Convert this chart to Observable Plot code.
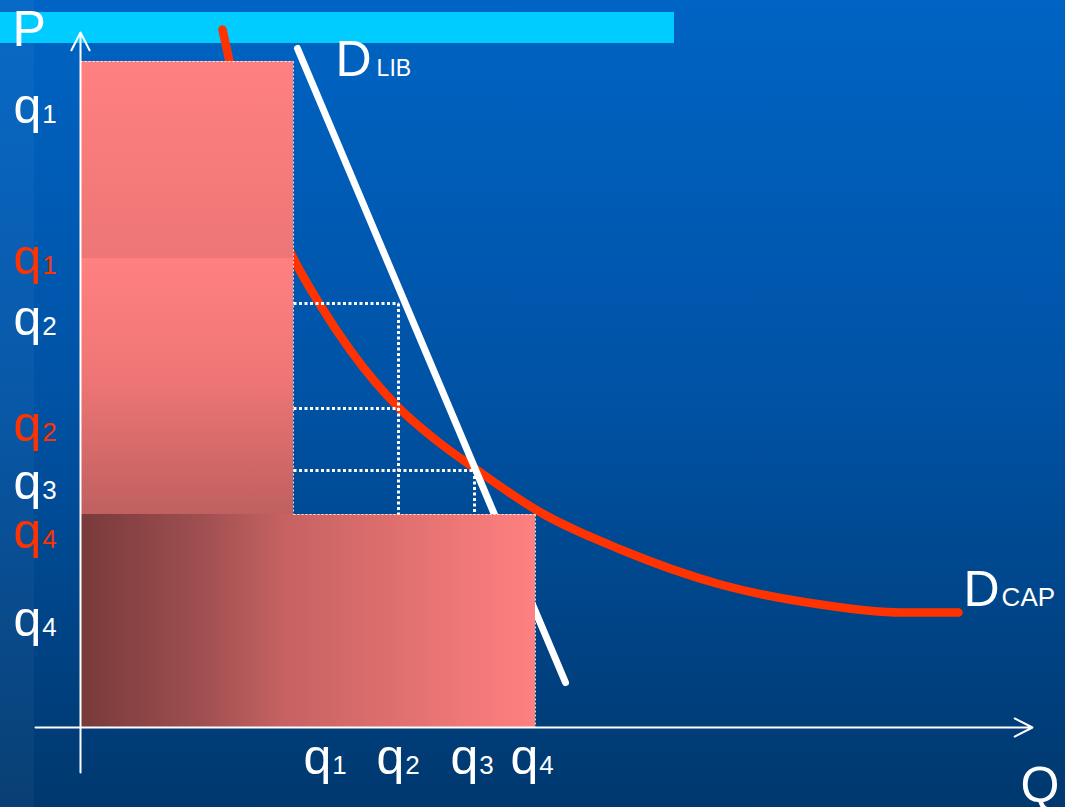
<!DOCTYPE html>
<html>
<head>
<meta charset="utf-8">
<script src="https://cdn.jsdelivr.net/npm/d3@7"></script>
<script src="https://cdn.jsdelivr.net/npm/@observablehq/plot@0.6"></script>
<style>
  html, body { margin: 0; padding: 0; background: #004a92; overflow: hidden; }
</style>
</head>
<body>
<div id="chart"></div>
<script>
// ---- data (Q and P in chart units, origin at the axes crossing) ----
const qTicks = [2.23, 2.96, 3.70, 4.30];           // label anchor positions on the Q axis
const qTickLabels = ["q_1", "q_2", "q_3", "q_4"];
const pLibLabels = ["q_1", "q_2", "q_3", "q_4"];   // white (D LIB) price labels
const pLibLevels = [6.21, 4.09, 2.45, 1.08];
const pCapLabels = ["q_1", "q_2", "q_4"];          // red (D CAP) price labels
const pCapLevels = [4.70, 3.03, 1.96];

// demand curves
const libQ = [2.17, 4.85];
const libP = [6.79, 0.45];
const capQ = [1.42, 1.49, 1.70, 1.90, 2.13, 2.40, 2.70, 3.19, 3.56, 3.93, 4.55, 5.40, 6.40, 7.40, 8.20, 8.78];
const capP = [6.98, 6.66, 5.82, 5.20, 4.69, 4.22, 3.77, 3.19, 2.87, 2.60, 2.18, 1.78, 1.43, 1.23, 1.15, 1.15];

// shaded revenue rectangles
const rectQ2 = [2.13, 2.13, 4.55];
const rectP1 = [4.69, 2.13, 0];
const rectP2 = [6.66, 4.69, 2.13];
const rectFill = ["gradA", "gradB", "gradC"];

// dotted guide segments
const dotQ1 = [2.13, 2.13, 2.13, 3.18, 3.94];
const dotQ2 = [3.18, 3.18, 3.94, 3.18, 3.94];
const dotP1 = [4.24, 3.19, 2.57, 4.24, 2.57];
const dotP2 = [4.24, 3.19, 2.57, 2.13, 2.13];

// thin dashed rectangle borders
const edgeQ1 = [0, 2.13, 2.13, 4.55];
const edgeQ2 = [2.13, 2.13, 4.55, 4.55];
const edgeP1 = [6.66, 6.66, 2.13, 2.13];
const edgeP2 = [6.66, 2.13, 2.13, 0];

// titles
const titleText = ["P", "Q", "D_LIB", "D_CAP"];
const titleQ = [-0.68, 9.40, 2.55, 8.83];
const titleP = [6.98, -0.58, 6.68, 1.38];

// header band
const bandQ = [-0.80, 5.94];
const bandP = [6.84, 7.15];

// axes
const axisYq = [0, 0], axisYp = [-0.45, 6.95];
const axisXq = [-0.45, 9.52], axisXp = [0, 0];

// ---- build tables ----
const rects = rectQ2.map((q2, i) => ({q1: 0, q2, p1: rectP1[i], p2: rectP2[i], fill: `url(#${rectFill[i]})`}));
const dots = dotQ1.map((q1, i) => ({q1, q2: dotQ2[i], p1: dotP1[i], p2: dotP2[i]}));
const edges = edgeQ1.map((q1, i) => ({q1, q2: edgeQ2[i], p1: edgeP1[i], p2: edgeP2[i]}));
const cap = capQ.map((q, i) => ({q, p: capP[i]}));
const lib = libQ.map((q, i) => ({q, p: libP[i]}));
const xLabels = qTicks.map((q, i) => ({q, p: -0.30, t: qTickLabels[i]}));
const yLib = pLibLevels.map((p, i) => ({q: -0.67, p, t: pLibLabels[i]}));
const yCap = pCapLevels.map((p, i) => ({q: -0.67, p, t: pCapLabels[i]}));
const titles = titleText.map((t, i) => ({t, q: titleQ[i], p: titleP[i]}));

const font = "'Liberation Sans', Arial, sans-serif";
const RED = "#ff3300";

function defs() {
  const d = d3.create("svg:defs");
  const lin = (id, vertical, stops) => {
    const g = d.append("linearGradient").attr("id", id)
      .attr("x1", 0).attr("y1", 0).attr("x2", vertical ? 0 : 1).attr("y2", vertical ? 1 : 0);
    stops.forEach(([o, c]) => g.append("stop").attr("offset", o).attr("stop-color", c));
  };
  lin("gradA", true, [[0, "#ff8080"], [1, "#ee7676"]]);
  lin("gradB", true, [[0, "#ff8080"], [0.45, "#f07676"], [1, "#c06060"]]);
  lin("gradC", false, [[0, "#783a3a"], [0.26, "#9e4e50"], [0.45, "#c66262"], [1, "#ff8080"]]);
  return d.node();
}

const chart = Plot.plot({
  width: 1065,
  height: 807,
  margin: 0,
  x: {domain: [-0.80, 9.85], axis: null},
  y: {domain: [-0.80, 7.27], axis: null},
  style: {
    background: "linear-gradient(to right, rgba(255,255,255,0.035) 0 34px, transparent 34px), linear-gradient(#0064c4, #0052a4 50%, #00386e)",
    overflow: "hidden"
  },
  marks: [
    defs,
    Plot.rect([0], {x1: bandQ[0], x2: bandQ[1], y1: bandP[0], y2: bandP[1], fill: "#00ccff"}),
    Plot.line(cap, {x: "q", y: "p", stroke: RED, strokeWidth: 8.5, curve: "monotone-x"}),
    Plot.line(lib, {x: "q", y: "p", stroke: "white", strokeWidth: 7}),
    Plot.rect(rects, {x1: "q1", x2: "q2", y1: "p1", y2: "p2", fill: d => d.fill}),
    Plot.link(edges, {x1: "q1", x2: "q2", y1: "p1", y2: "p2", stroke: "white", strokeOpacity: 0.85, strokeWidth: 1, strokeDasharray: "2,2"}),
    Plot.link(dots, {x1: "q1", x2: "q2", y1: "p1", y2: "p2", stroke: "white", strokeWidth: 3, strokeDasharray: "3,2.5"}),
    Plot.arrow([0], {x1: axisYq[0], x2: axisYq[1], y1: axisYp[0], y2: axisYp[1], stroke: "white", strokeWidth: 2, headLength: 15, headAngle: 54}),
    Plot.arrow([0], {x1: axisXq[0], x2: axisXq[1], y1: axisXp[0], y2: axisXp[1], stroke: "white", strokeWidth: 2, headLength: 15, headAngle: 54}),
    Plot.text(xLabels, {x: "q", y: "p", text: "t", fill: "white", fontSize: 50, fontFamily: font, textAnchor: "start"}),
    Plot.text(yLib, {x: "q", y: "p", text: "t", fill: "white", fontSize: 50, fontFamily: font, textAnchor: "start"}),
    Plot.text(yCap, {x: "q", y: "p", text: "t", fill: RED, fontSize: 50, fontFamily: font, textAnchor: "start"}),
    Plot.text(titles, {x: "q", y: "p", text: "t", fill: "white", fontSize: 50, fontFamily: font, textAnchor: "start"})
  ]
});

// turn "x_sub" strings into main text + subscript tspan (subscript sits on the baseline)
d3.select(chart).selectAll("text").each(function () {
  const s = this.textContent;
  if (!s.includes("_")) return;
  const [main, sub] = s.split("_");
  const el = d3.select(this);
  el.text(null);
  el.append("tspan").text(main);
  const subSize = sub === "LIB" ? 23 : 26;
  el.append("tspan").attr("font-size", subSize).attr("dx", sub === "LIB" ? 5 : sub.length > 1 ? 2 : 1).text(sub);
});

document.getElementById("chart").appendChild(chart);
</script>
</body>
</html>
